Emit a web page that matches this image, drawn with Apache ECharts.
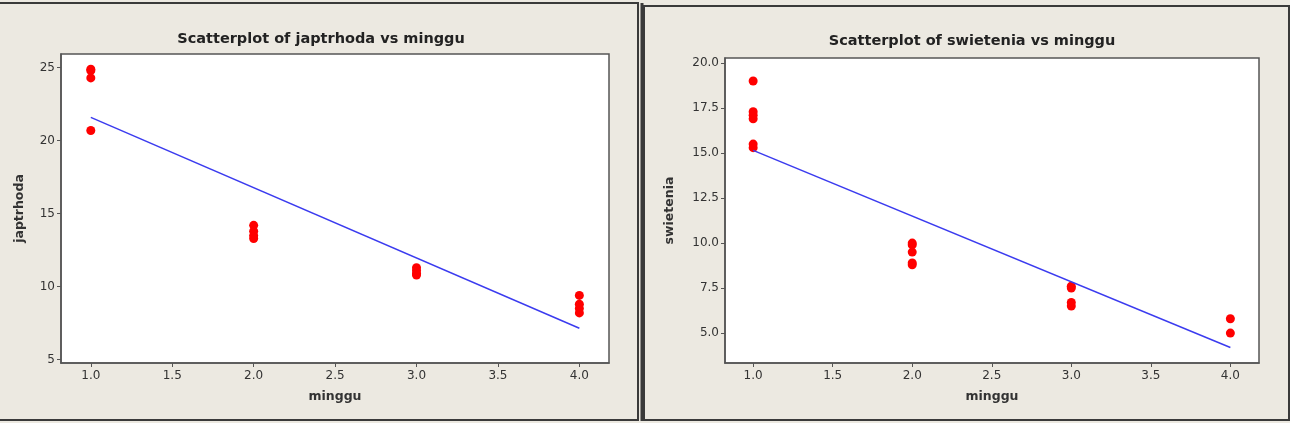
<!DOCTYPE html>
<html>
<head>
<meta charset="utf-8">
<script src="https://cdn.jsdelivr.net/npm/echarts@6/dist/echarts.min.js"></script>
<style>
html,body{margin:0;padding:0;background:#ECE9E1;}
#c{width:1290px;height:423px;}
</style>
</head>
<body>
<div id="c"></div>
<script>
// ---- data ----
const japtrhodaWeek = [1, 1, 1, 1, 2, 2, 2, 2, 3, 3, 3, 3, 4, 4, 4, 4];
const japtrhoda     = [24.9, 24.8, 24.3, 20.7, 14.2, 13.8, 13.5, 13.3, 11.3, 11.1, 10.9, 10.8, 9.4, 8.8, 8.5, 8.2];
const japtrhodaFitX = [1, 4];
const japtrhodaFitY = [21.6, 7.15];

const swieteniaWeek = [1, 1, 1, 1, 1, 1, 2, 2, 2, 2, 2, 3, 3, 3, 3, 4, 4];
const swietenia     = [19.0, 17.3, 17.1, 16.9, 15.5, 15.3, 10.0, 9.9, 9.5, 8.9, 8.8, 7.6, 7.5, 6.7, 6.5, 5.8, 5.0];
const swieteniaFitX = [1, 4];
const swieteniaFitY = [15.15, 4.2];

const xTicks      = [1.0, 1.5, 2.0, 2.5, 3.0, 3.5, 4.0];
const yTicksLeft  = [5, 10, 15, 20, 25];
const yTicksRight = [5.0, 7.5, 10.0, 12.5, 15.0, 17.5, 20.0];

const titles = ['Scatterplot of japtrhoda vs minggu', 'Scatterplot of swietenia vs minggu'];
const xName = 'minggu';
const yNames = ['japtrhoda', 'swietenia'];

// ---- chart ----
const zip = (a, b) => a.map((v, i) => [v, b[i]]);
const FONT = 'DejaVu Sans';
const frame = '#555555';

function xAxis(gi) {
  return {
    type: 'value', gridIndex: gi, min: gi === 0 ? 0.817 : 0.823, max: gi === 0 ? 4.182 : 4.18,
    name: xName, nameLocation: 'middle', nameGap: 27,
    nameTextStyle: {fontFamily: FONT, fontWeight: 'bold', fontSize: 12.5, color: '#333'},
    axisLine: {show: true, onZero: false, lineStyle: {color: frame, width: 1.5}},
    axisTick: {show: true, customValues: xTicks, length: 4, inside: false, lineStyle: {color: frame}},
    axisLabel: {customValues: xTicks, margin: 7, fontFamily: FONT, fontSize: 12, color: '#333',
      formatter: v => v.toFixed(1)},
    splitLine: {show: false}
  };
}
function yAxis(gi, ticks, min, max, dec, gap) {
  return {
    type: 'value', gridIndex: gi, min: min, max: max,
    name: yNames[gi], nameLocation: 'middle', nameGap: gap, nameRotate: 90,
    nameTextStyle: {fontFamily: FONT, fontWeight: 'bold', fontSize: 12.5, color: '#333'},
    axisLine: {show: true, onZero: false, lineStyle: {color: frame, width: 1.5}},
    axisTick: {show: true, customValues: ticks, length: 4, lineStyle: {color: frame}},
    axisLabel: {customValues: ticks, margin: 6, fontFamily: FONT, fontSize: 12, color: '#333',
      formatter: v => v.toFixed(dec)},
    splitLine: {show: false}
  };
}

const chart = echarts.init(document.getElementById('c'), null, {renderer: 'canvas'});
chart.setOption({
  backgroundColor: '#ECE9E1',
  animation: false,
  title: [
    {text: titles[0], left: 316, top: 27, textAlign: 'center',
     textStyle: {fontFamily: FONT, fontWeight: 'bold', fontSize: 14.5, color: '#222'}},
    {text: titles[1], left: 967, top: 29, textAlign: 'center',
     textStyle: {fontFamily: FONT, fontWeight: 'bold', fontSize: 14.5, color: '#222'}}
  ],
  graphic: [
    {type: 'rect', shape: {x: -3, y: 3, width: 641, height: 417}, style: {fill: 'none', stroke: '#3a3a3a', lineWidth: 2}},
    {type: 'line', shape: {x1: 642, y1: 3, x2: 642, y2: 421}, style: {stroke: '#3a3a3a', lineWidth: 3}},
    {type: 'rect', shape: {x: 644, y: 6, width: 645, height: 414}, style: {fill: 'none', stroke: '#3a3a3a', lineWidth: 2}}
  ],
  grid: [
    {left: 61, top: 54, width: 548, height: 309, show: true, backgroundColor: '#ffffff', borderColor: frame, borderWidth: 1.5},
    {left: 725, top: 58, width: 534, height: 305, show: true, backgroundColor: '#ffffff', borderColor: frame, borderWidth: 1.5}
  ],
  xAxis: [xAxis(0), xAxis(1)],
  yAxis: [
    yAxis(0, yTicksLeft, 4.77, 25.94, 0, 35),
    yAxis(1, yTicksRight, 3.34, 20.28, 1, 49)
  ],
  series: [
    {type: 'line', xAxisIndex: 0, yAxisIndex: 0, data: zip(japtrhodaFitX, japtrhodaFitY), symbol: 'none',
     lineStyle: {color: '#3b3bef', width: 1.5}},
    {type: 'scatter', xAxisIndex: 0, yAxisIndex: 0, data: zip(japtrhodaWeek, japtrhoda), symbolSize: 9,
     itemStyle: {color: '#ff0000', opacity: 1}},
    {type: 'line', xAxisIndex: 1, yAxisIndex: 1, data: zip(swieteniaFitX, swieteniaFitY), symbol: 'none',
     lineStyle: {color: '#3b3bef', width: 1.5}},
    {type: 'scatter', xAxisIndex: 1, yAxisIndex: 1, data: zip(swieteniaWeek, swietenia), symbolSize: 9,
     itemStyle: {color: '#ff0000', opacity: 1}}
  ]
});
</script>
</body>
</html>
